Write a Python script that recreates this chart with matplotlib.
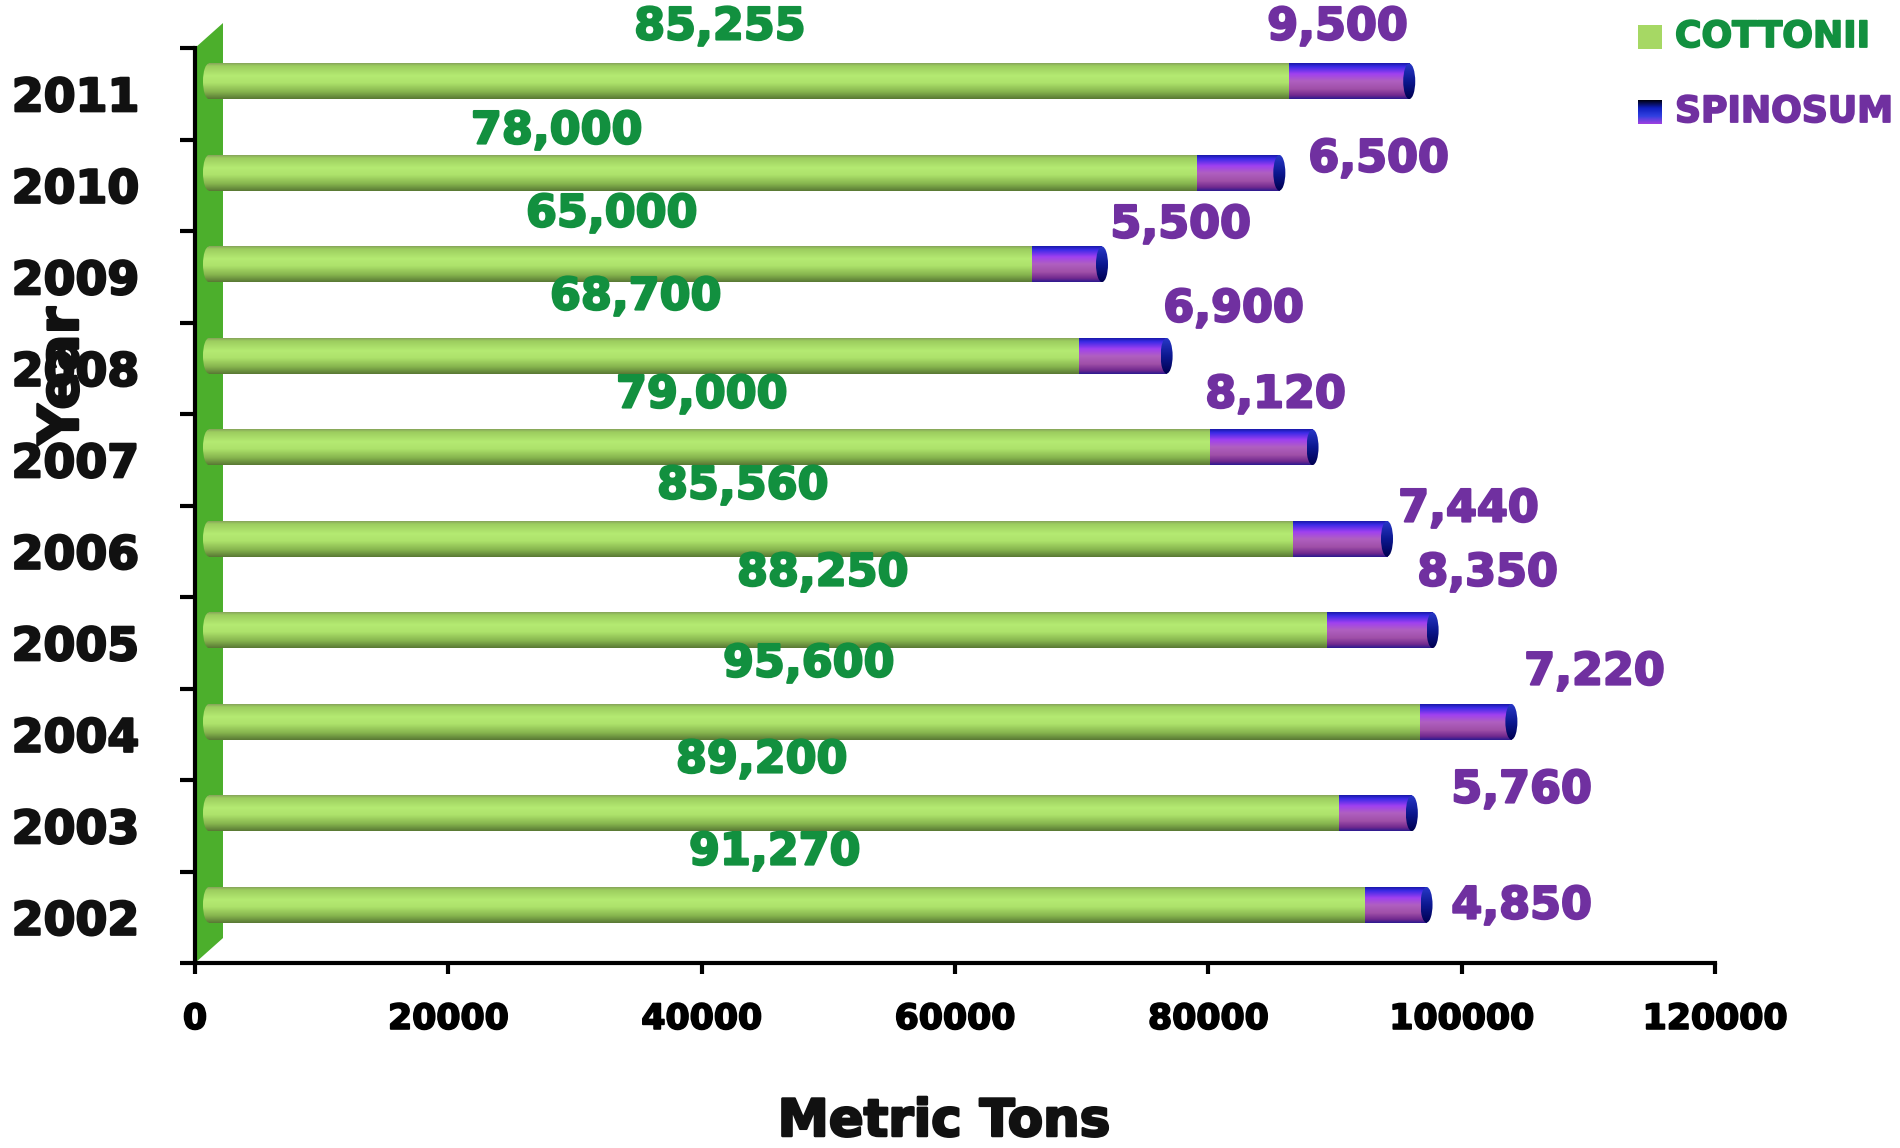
import numpy as np
import matplotlib
matplotlib.use("Agg")
import matplotlib.pyplot as plt
import matplotlib.patheffects as pe
from matplotlib.colors import LinearSegmentedColormap
from matplotlib.patches import Rectangle, Ellipse, Polygon

# ---------------- data ----------------
years = ["2002", "2003", "2004", "2005", "2006", "2007", "2008", "2009", "2010", "2011"]
cottonii = [91270, 89200, 95600, 88250, 85560, 79000, 68700, 65000, 78000, 85255]
spinosum = [4850, 5760, 7220, 8350, 7440, 8120, 6900, 5500, 6500, 9500]
x_ticks = [0, 20000, 40000, 60000, 80000, 100000, 120000]
series_names = ["COTTONII", "SPINOSUM"]

# ---------------- layout (label placements, data coords) ----------------
green_lbl_xy = [(45780, 0.713), (44750, 1.719), (48460, 2.768), (49570, 3.762),
                (43250, 4.713), (40020, 5.708), (34810, 6.779), (32910, 7.686),
                (28570, 8.593), (41440, 9.730)]
purple_lbl_xy = [(104740, 0.123), (104740, 1.391), (110500, 2.680), (102050, 3.762),
                 (100550, 4.462), (85320, 5.708), (82000, 6.648), (77820, 7.566),
                 (93450, 8.287), (90200, 9.730)]

GREEN_TXT = "#12903f"
PURPLE_TXT = "#7030a0"
FONT = ["DejaVu Sans"]


def heavy(color, lw=1.6):
    return [pe.withStroke(linewidth=lw, foreground=color)]


fig = plt.figure(figsize=(19, 11.48), dpi=100)
ax = fig.add_axes([195 / 1900, 1 - 963 / 1148, 1520 / 1900, 915 / 1148])

XMAX = 120000
ax.set_xlim(0, XMAX)
ax.set_ylim(-0.5, 9.5)

# depth offsets (3D look)
DXW, DYW = 2210, 0.273      # wall depth
DX, DY = DXW / 2, DYW / 2   # bars sit at mid depth
BH = 0.39                   # bar thickness
CAPW = 950                  # ellipse cap width (data units)

green_cmap = LinearSegmentedColormap.from_list("g", [
    (0.0, "#86a35a"), (0.08, "#9ccd5e"), (0.35, "#b4ea72"), (0.55, "#ade26b"),
    (0.8, "#86b44e"), (1.0, "#587834")])
purple_cmap = LinearSegmentedColormap.from_list("p", [
    (0.0, "#1818a8"), (0.1, "#3a2ae6"), (0.3, "#a040f0"), (0.5, "#b060c0"),
    (0.72, "#a050a8"), (0.9, "#70288e"), (1.0, "#2a1a90")])
cap_cmap = LinearSegmentedColormap.from_list("c", [
    (0.0, "#2838c8"), (0.5, "#0c1890"), (1.0, "#000050")])

grad = np.linspace(0, 1, 256).reshape(-1, 1)


def gradient_fill(patch, cmap, zorder):
    patch.set_facecolor("none")
    patch.set_edgecolor("none")
    ax.add_patch(patch)
    bb = patch.get_path().get_extents(patch.get_patch_transform())
    im = ax.imshow(grad, cmap=cmap, aspect="auto", origin="upper",
                   extent=[bb.x0, bb.x1, bb.y0, bb.y1], zorder=zorder,
                   interpolation="bilinear")
    im.set_clip_path(patch)
    return im


# wall
wall = Polygon([(0, -0.5), (0, 9.5), (DXW, 9.5 + DYW), (DXW, -0.5 + DYW)],
               closed=True, facecolor="#4caf2c", edgecolor="none", zorder=1,
               clip_on=False)
ax.add_patch(wall)

for i in range(len(years)):
    yc = i + DY
    g, s = cottonii[i], spinosum[i]
    gb = ax.barh(yc, g, left=DX, height=BH, color="none", edgecolor="none")[0]
    gb.remove()
    gradient_fill(Rectangle((DX, yc - BH / 2), g, BH), green_cmap, 3)
    gradient_fill(Ellipse((DX, yc), CAPW, BH), green_cmap, 3)
    gradient_fill(Rectangle((DX + g, yc - BH / 2), s, BH), purple_cmap, 4)
    gradient_fill(Ellipse((DX + g + s, yc), CAPW, BH), cap_cmap, 5)

    gx, gy = green_lbl_xy[i]
    ax.text(gx, gy, f"{g:,}", color=GREEN_TXT, fontsize=32, fontweight="bold",
            family=FONT, ha="center", va="center", zorder=6, clip_on=False,
            path_effects=heavy(GREEN_TXT))
    px, py = purple_lbl_xy[i]
    ax.text(px, py, f"{s:,}", color=PURPLE_TXT, fontsize=32, fontweight="bold",
            family=FONT, ha="center", va="center", zorder=6, clip_on=False,
            path_effects=heavy(PURPLE_TXT))

ax.set_xlim(0, XMAX)
ax.set_ylim(-0.5, 9.5)

for sp in ["top", "right"]:
    ax.spines[sp].set_visible(False)
for sp in ["left", "bottom"]:
    ax.spines[sp].set_linewidth(3)
    ax.spines[sp].set_color("black")
    ax.spines[sp].set_zorder(7)

ax.set_xticks(x_ticks)
ax.set_xticklabels([str(v) for v in x_ticks])
ax.tick_params(axis="x", direction="out", length=8, width=3, pad=20,
               labelsize=25)
for lab in ax.get_xticklabels():
    lab.set_fontweight("bold")
    lab.set_family(FONT)
    lab.set_path_effects(heavy("black", 1.3))

ax.set_yticks(range(len(years)))
ax.set_yticklabels(years)
ax.set_yticks(np.arange(-0.5, len(years)), minor=True)
ax.tick_params(axis="y", which="major", length=0, pad=40, labelsize=33)
ax.tick_params(axis="y", which="minor", direction="out", length=11, width=3)
for lab in ax.get_yticklabels():
    lab.set_fontweight("bold")
    lab.set_family(FONT)
    lab.set_color("#111111")
    lab.set_path_effects(heavy("#111111", 1.6))

fig.text(63 / 1900, 1 - 376 / 1148, "Year", rotation=90, fontsize=40,
         fontweight="bold", family=FONT, ha="center", va="center", zorder=10,
         color="#111111", path_effects=heavy("#111111", 1.8))
fig.text(944 / 1900, 1 - 1122 / 1148, "Metric Tons", fontsize=37,
         fontweight="bold", family=FONT, ha="center", va="center",
         color="#111111", path_effects=heavy("#111111", 1.8))

# legend
lg_green = fig.add_axes([1638 / 1900, 1 - 49 / 1148, 24 / 1900, 24 / 1148])
lg_green.add_patch(Rectangle((0, 0), 1, 1, facecolor="#a6d864", edgecolor="none"))
lg_green.set_xlim(0, 1); lg_green.set_ylim(0, 1); lg_green.axis("off")
lg_purp = fig.add_axes([1638 / 1900, 1 - 124 / 1148, 24 / 1900, 24 / 1148])
lg_purp.imshow(np.linspace(0, 1, 64).reshape(-1, 1), aspect="auto",
               cmap=LinearSegmentedColormap.from_list("lp", ["#000010", "#1020c0", "#3040e0", "#a040e0"]),
               extent=[0, 1, 0, 1], origin="upper")
lg_purp.axis("off")
fig.text(1675 / 1900, 1 - 37 / 1148, series_names[0], fontsize=26, fontweight="bold",
         family=FONT, color=GREEN_TXT, ha="left", va="center",
         path_effects=heavy(GREEN_TXT, 1.3))
fig.text(1675 / 1900, 1 - 112 / 1148, series_names[1], fontsize=26, fontweight="bold",
         family=FONT, color=PURPLE_TXT, ha="left", va="center",
         path_effects=heavy(PURPLE_TXT, 1.3))

fig.savefig("out.png", dpi=100, facecolor="white")
